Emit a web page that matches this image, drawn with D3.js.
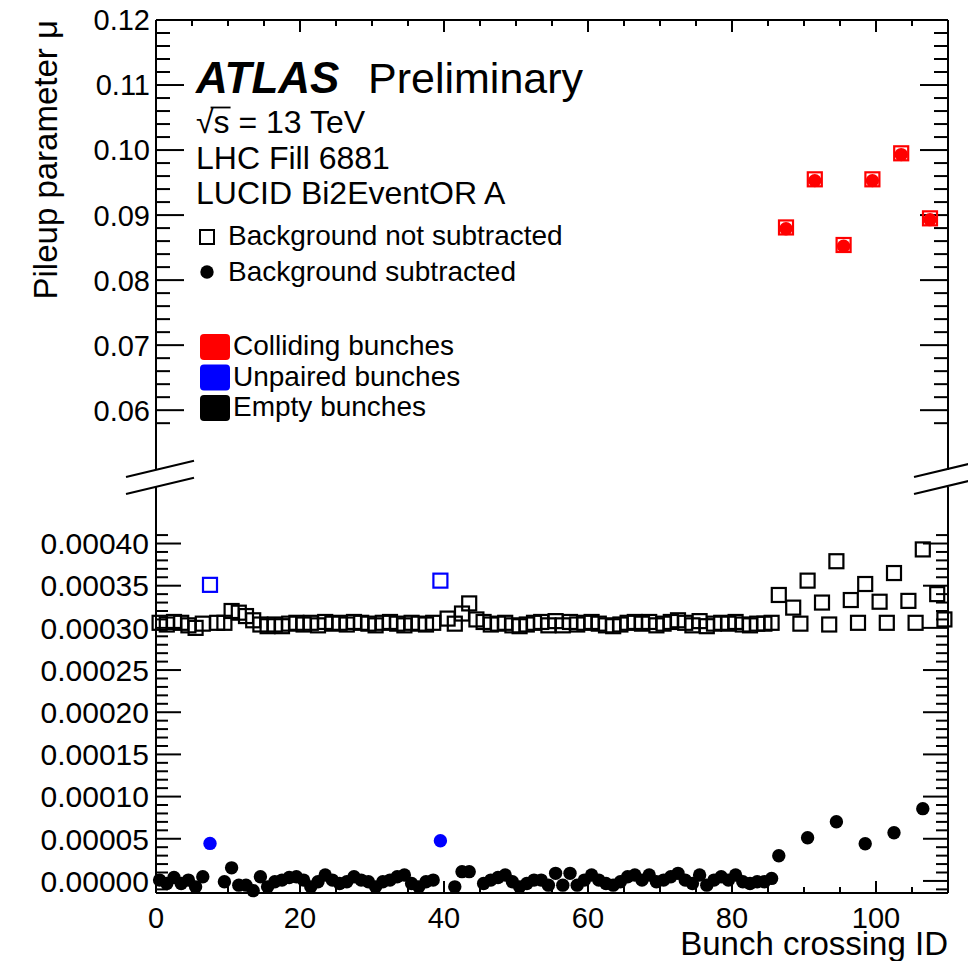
<!DOCTYPE html>
<html>
<head>
<meta charset="utf-8">
<script src="https://cdn.jsdelivr.net/npm/d3@7"></script>
<style>
  html, body { margin: 0; padding: 0; background: #fff; }
  svg { display: block; }
  text { font-family: "Liberation Sans", Arial, Helvetica, sans-serif; fill: #000; }
</style>
</head>
<body>
<svg id="chart" width="968" height="961"></svg>
<script>
// ---- data: LUCID Bi2EventOR A, LHC fill 6881, per bunch crossing ID ----
const bcidMax = 110;

// colliding bunches (upper panel)
const collidingIds = [87, 91, 95, 99, 103, 107];
const collidingRaw = [0.0881, 0.0955, 0.0854, 0.0955, 0.0995, 0.0895];
const collidingSub = [0.0879, 0.0953, 0.0852, 0.0953, 0.0993, 0.0893];

// unpaired bunches (lower panel)
const unpairedIds = [7, 39];
const unpairedRaw = [0.000351, 0.000356];
const unpairedSub = [0.0000445, 0.0000476];

// empty bunches, indexed by BCID 0..109 (null = not an empty bunch / not shown)
const emptyRaw = [
  0.000306, 0.000304, 0.000307, 0.000306, 0.000303, 0.000300, 0.000305, null, 0.000306, 0.000306,
  0.000320, 0.000318, 0.000314, 0.000309, 0.000304, 0.000302, 0.000304, 0.000302, 0.000305, 0.000306,
  0.000304, 0.000306, 0.000303, 0.000307, 0.000305, 0.000306, 0.000304, 0.000307, 0.000306, 0.000305,
  0.000303, 0.000306, 0.000307, 0.000305, 0.000303, 0.000306, 0.000305, 0.000304, 0.000306, null,
  0.000311, 0.000305, 0.000317, 0.000329, 0.000310, 0.000307, 0.000304, 0.000305, 0.000306, 0.000303,
  0.000302, 0.000304, 0.000306, 0.000307, 0.000303, 0.000308, 0.000303, 0.000307, 0.000304, 0.000306,
  0.000307, 0.000305, 0.000303, 0.000302, 0.000304, 0.000306, 0.000307, 0.000305, 0.000307, 0.000303,
  0.000305, 0.000307, 0.000309, 0.000306, 0.000303, 0.000308, 0.000302, 0.000305, 0.000306, 0.000305,
  0.000307, 0.000304, 0.000303, 0.000305, 0.000305, 0.000306, 0.000339, null, 0.000324, 0.000305,
  0.000356, null, 0.000330, 0.000304, 0.000379, null, 0.000333, 0.000306, 0.000352, null,
  0.000331, 0.000306, 0.000365, null, 0.000332, 0.000306, 0.000393, null, 0.000340, 0.000310
];
const emptySub = [
  0.000001, -0.000003, 0.000004, -0.000003, 0.000001, -0.000007, 0.000005, null, null, -0.000001,
  0.0000155, -0.000005, -0.000005, -0.0000115, 0.000005, -0.000007, -0.000001, 0.000001, 0.000004, 0.000005,
  0.000001, -0.000007, -0.000001, 0.000007, 0.000001, -0.000003, -0.000001, 0.000005, 0.000001, -0.000001,
  -0.000007, -0.000001, 0.000001, 0.000005, 0.000007, -0.000003, -0.000007, -0.000001, 0.000001, null,
  null, -0.000007, 0.000011, 0.000011, null, -0.000003, 0.000001, 0.000004, 0.000007, -0.000001,
  -0.000007, -0.000003, 0.000001, 0.000001, -0.000005, 0.000009, -0.000005, 0.000009, -0.000005, 0.000001,
  0.000007, 0.000001, -0.000003, -0.000005, -0.000001, 0.000005, 0.000007, 0.000001, 0.000007, -0.000001,
  0.000001, 0.000005, 0.000009, 0.000001, -0.000003, 0.000007, -0.000005, 0.000001, 0.000005, 0.000001,
  0.000007, -0.000001, -0.000003, -0.000001, -0.000001, 0.000003, 0.0000298, null, null, null,
  0.0000512, null, null, null, 0.0000702, null, null, null, 0.0000440, null,
  null, null, 0.0000571, null, null, null, 0.0000857, null, null, null
];

// axis labelling
const xTickLabels = [0, 20, 40, 60, 80, 100];
const yTopLabels = [0.06, 0.07, 0.08, 0.09, 0.10, 0.11, 0.12];
const yBotLabels = [0, 0.00005, 0.0001, 0.00015, 0.0002, 0.00025, 0.0003, 0.00035, 0.0004];

// ---- layout ----
const L = 156, R = 948, T = 20, B = 893;
const breakTop = 470, breakBot = 487;

const svg = d3.select("#chart");
const x = d3.scaleLinear().domain([0, bcidMax]).range([L, R]);
const yTop = d3.scaleLinear().domain([0.0508, 0.12]).range([breakTop, T]);
const yBot = d3.scaleLinear().domain([-0.0000143, 0.000467]).range([B, breakBot]);

const axisColor = "#000";
const g = svg.append("g");

// frame lines
function line(x1, y1, x2, y2, w) {
  g.append("line").attr("x1", x1).attr("y1", y1).attr("x2", x2).attr("y2", y2)
    .attr("stroke", axisColor).attr("stroke-width", w || 2);
}
line(L, T, R, T);
line(L, B, R, B);
line(L, T, L, breakTop);
line(L, breakBot, L, B);
line(R, T, R, breakTop);
line(R, breakBot, R, B);

// x ticks (major every 20, minor every 5) on bottom and top
d3.range(0, bcidMax + 1, 5).forEach(v => {
  const major = v % 20 === 0;
  const len = major ? 12 : 6;
  line(x(v), B, x(v), B - len);
  line(x(v), T, x(v), T + len);
});
g.selectAll("text.xl").data(xTickLabels).enter().append("text")
  .attr("class", "xl")
  .attr("x", d => x(d)).attr("y", 928)
  .attr("text-anchor", "middle").attr("font-size", 29)
  .text(d => d);

// upper panel y ticks: minor every 0.002, major every 0.01
d3.range(29, 61).forEach(i => {
  const v = i * 0.002;
  const major = i % 5 === 0;
  const len = major ? 28 : 14;
  line(L, yTop(v), L + len, yTop(v));
  line(R, yTop(v), R - len, yTop(v));
});
g.selectAll("text.ytl").data(yTopLabels).enter().append("text")
  .attr("class", "ytl")
  .attr("x", 150).attr("y", d => yTop(d))
  .attr("dy", "0.36em")
  .attr("text-anchor", "end").attr("font-size", 29)
  .text(d => d3.format(".2f")(d));

// lower panel y ticks: minor every 0.00001, major every 0.00005
d3.range(-1, 42).forEach(i => {
  const v = i * 0.00001;
  const major = i % 5 === 0;
  const len = major ? 25 : 12;
  line(L, yBot(v), L + len, yBot(v));
  line(R, yBot(v), R - len, yBot(v));
});
g.selectAll("text.ybl").data(yBotLabels).enter().append("text")
  .attr("class", "ybl")
  .attr("x", 149).attr("y", d => yBot(d))
  .attr("dy", "0.36em")
  .attr("text-anchor", "end").attr("font-size", 30)
  .text(d => d3.format(".5f")(d));

// axis break marks
const slope = -16 / 67;
[[126, 194], [914, 982]].forEach(([x1, x2]) => {
  [477, 494].forEach(y1 => {
    line(x1, y1, x2, y1 + slope * (x2 - x1));
  });
});

// axis titles
svg.append("text")
  .attr("transform", "translate(57,20) rotate(-90)")
  .attr("text-anchor", "end").attr("font-size", 33)
  .text("Pileup parameter μ");
svg.append("text")
  .attr("x", 948).attr("y", 955)
  .attr("text-anchor", "end").attr("font-size", 33)
  .text("Bunch crossing ID");

// ---- markers ----
const sq = 14, rad = 6.7;
const cx = b => x(b + 0.5);

function squares(ids, vals, y, color) {
  const pts = ids.map((b, i) => ({ b, v: vals[i] })).filter(d => d.v !== null);
  g.append("g").selectAll("rect").data(pts).enter().append("rect")
    .attr("x", d => cx(d.b) - sq / 2).attr("y", d => y(d.v) - sq / 2)
    .attr("width", sq).attr("height", sq)
    .attr("fill", "none").attr("stroke", color).attr("stroke-width", 2.2);
}
function circles(ids, vals, y, color) {
  const pts = ids.map((b, i) => ({ b, v: vals[i] })).filter(d => d.v !== null);
  g.append("g").selectAll("circle").data(pts).enter().append("circle")
    .attr("cx", d => cx(d.b)).attr("cy", d => y(d.v))
    .attr("r", rad).attr("fill", color);
}

const allIds = d3.range(0, bcidMax);
// lower panel: empty and unpaired bunches
squares(allIds, emptyRaw, yBot, "#000");
squares(unpairedIds, unpairedRaw, yBot, "#0000ff");
circles(allIds, emptySub, yBot, "#000");
circles(unpairedIds, unpairedSub, yBot, "#0000ff");
// upper panel: colliding bunches
squares(collidingIds, collidingRaw, yTop, "#ff0000");
circles(collidingIds, collidingSub, yTop, "#ff0000");

// ---- labels ----
const lab = svg.append("g");
lab.append("text").attr("x", 196).attr("y", 93)
  .attr("font-size", 44).attr("font-weight", "bold").attr("font-style", "italic")
  .text("ATLAS");
lab.append("text").attr("x", 368).attr("y", 93)
  .attr("font-size", 43).text("Preliminary");

// √s = 13 TeV, with an overbar drawn across the s
const sqrtText = lab.append("text").attr("x", 196).attr("y", 133).attr("font-size", 32)
  .text("√s = 13 TeV");
const sNode = sqrtText.node();
const rootW = sNode.getSubStringLength(0, 1);
const sW = sNode.getSubStringLength(1, 1);
lab.append("line")
  .attr("x1", 196 + rootW - 3).attr("y1", 107.5)
  .attr("x2", 196 + rootW + sW + 1).attr("y2", 107.5)
  .attr("stroke", "#000").attr("stroke-width", 1.8);

lab.append("text").attr("x", 196).attr("y", 169).attr("font-size", 32).text("LHC Fill 6881");
lab.append("text").attr("x", 196).attr("y", 204).attr("font-size", 32).text("LUCID Bi2EventOR A");

// marker style legend
lab.append("rect").attr("x", 200).attr("y", 230).attr("width", 14).attr("height", 14)
  .attr("fill", "none").attr("stroke", "#000").attr("stroke-width", 2);
lab.append("text").attr("x", 228).attr("y", 245).attr("font-size", 28).text("Background not subtracted");
lab.append("circle").attr("cx", 207).attr("cy", 272).attr("r", rad).attr("fill", "#000");
lab.append("text").attr("x", 228).attr("y", 281).attr("font-size", 28).text("Background subtracted");

// bunch type legend
const typeNames = ["Colliding bunches", "Unpaired bunches", "Empty bunches"];
const typeColors = ["#ff0000", "#0000ff", "#000000"];
typeNames.forEach((name, i) => {
  const yy = 334 + i * 30.5;
  lab.append("rect").attr("x", 200).attr("y", yy).attr("width", 30).attr("height", 26)
    .attr("rx", 4).attr("fill", typeColors[i]);
  lab.append("text").attr("x", 233).attr("y", yy + 21).attr("font-size", 28).text(name);
});
</script>
</body>
</html>
